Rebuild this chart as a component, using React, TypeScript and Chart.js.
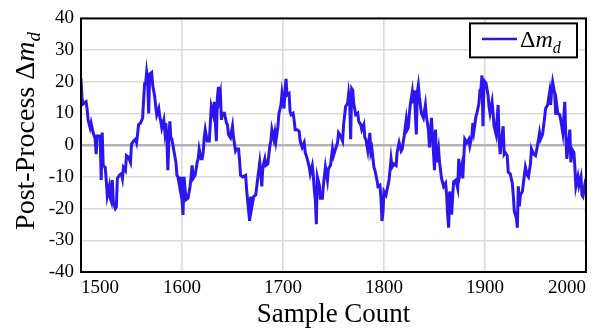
import { useEffect, useRef } from "react";
import { Chart, registerables } from "chart.js";

Chart.register(...registerables);

// Sample numbers (x) and post-process Δm_d values (y)
const sampleIdx = [
  1500, 1501, 1502, 1505, 1506, 1507, 1509, 1510, 1512, 1514, 1515, 1516, 1519, 1520, 1521, 1522, 1524, 1525, 1526, 1528,
  1529, 1530, 1531, 1532, 1534, 1535, 1536, 1538, 1540, 1541, 1542, 1544, 1545, 1547, 1549, 1550, 1552, 1554, 1555, 1556,
  1557, 1559, 1561, 1562, 1563, 1564, 1565, 1566, 1567, 1568, 1570, 1571, 1573, 1574, 1575, 1577, 1578, 1579, 1580, 1582,
  1583, 1584, 1585, 1586, 1587, 1588, 1589, 1590, 1592, 1594, 1595, 1596, 1598, 1599, 1600, 1601, 1602, 1604, 1606, 1608,
  1609, 1610, 1611, 1613, 1615, 1616, 1617, 1619, 1620, 1621, 1622, 1623, 1625, 1627, 1628, 1629, 1631, 1632, 1634, 1635,
  1636, 1637, 1638, 1639, 1640, 1642, 1644, 1645, 1646, 1648, 1650, 1651, 1653, 1654, 1656, 1657, 1658, 1660, 1663, 1664,
  1666, 1667, 1668, 1669, 1671, 1673, 1675, 1677, 1678, 1679, 1680, 1682, 1683, 1685, 1687, 1688, 1689, 1691, 1692, 1693,
  1695, 1696, 1698, 1699, 1701, 1702, 1703, 1704, 1706, 1707, 1708, 1710, 1711, 1712, 1714, 1716, 1717, 1719, 1721, 1722,
  1724, 1726, 1727, 1729, 1730, 1731, 1732, 1733, 1734, 1736, 1737, 1739, 1740, 1742, 1744, 1745, 1747, 1749, 1750, 1752,
  1754, 1755, 1757, 1759, 1760, 1762, 1764, 1765, 1766, 1767, 1768, 1769, 1770, 1772, 1774, 1775, 1777, 1778, 1780, 1781,
  1782, 1784, 1786, 1787, 1788, 1790, 1791, 1793, 1794, 1796, 1797, 1798, 1799, 1800, 1802, 1803, 1805, 1807, 1808, 1810,
  1812, 1813, 1815, 1817, 1818, 1820, 1822, 1823, 1824, 1825, 1826, 1828, 1829, 1830, 1832, 1833, 1834, 1835, 1837, 1839,
  1841, 1842, 1844, 1845, 1847, 1848, 1850, 1851, 1852, 1854, 1855, 1857, 1859, 1861, 1862, 1863, 1864, 1865, 1867, 1868,
  1869, 1871, 1873, 1874, 1875, 1877, 1878, 1879, 1880, 1882, 1884, 1885, 1887, 1888, 1889, 1891, 1892, 1894, 1895, 1896,
  1897, 1898, 1899, 1901, 1903, 1904, 1905, 1907, 1908, 1909, 1911, 1913, 1914, 1915, 1916, 1918, 1919, 1920, 1922, 1923,
  1925, 1927, 1928, 1929, 1931, 1932, 1933, 1934, 1935, 1937, 1938, 1940, 1942, 1943, 1945, 1946, 1948, 1950, 1951, 1953,
  1954, 1955, 1957, 1959, 1960, 1962, 1964, 1965, 1966, 1967, 1969, 1970, 1971, 1972, 1974, 1975, 1977, 1979, 1980, 1981,
  1982, 1984, 1985, 1986, 1988, 1989, 1990, 1992, 1993, 1995, 1996, 1997, 1999, 2000,
];

const deltaMd = [
  21, 15, 13, 13.7, 11.6, 8, 5.5, 7, 4, 2, -2.8, 2.9, 2.9, -11, 4, -6.4, -7, -11, -16, -13,
  -16.7, -17.7, -11, -18, -20, -19.5, -10.5, -9.5, -9, -10.5, -7, -8, -3.3, -3.8, -5.4, 0.3, 1.3, 1.9, 0.8, 3.4,
  6.5, 7, 8.6, 14.2, 19.4, 19.4, 23, 20.4, 10, 22.5, 23, 18.9, 15.3, 12.2, 9.6, 11.6, 9, 7.5, 5.5, 8,
  4.4, 7, 2.4, -7.9, 1.9, 7.5, 1.9, 1.9, -1.8, -5.4, -9.5, -10, -13.6, -10, -17, -22, -10, -17.2, -16.7, -13,
  -10, -6.4, -10.5, -9.5, -5.4, -4.3, -1.2, -4.3, -4.3, -2.3, 2.4, 4.9, 1.3, 1.3, 6.5, 12.2, 9.6, 13.7, 1.3, 14.7,
  18.4, 14.7, 16.3, 8, 10.1, 10.1, 7, 6.5, 3.4, 2.4, 6, 2.4, -1.8, -1.2, -1.2, -4.8, -9.5, -10, -9.5, -14.1,
  -20.8, -23.9, -16.2, -19.8, -16.2, -15.7, -10.5, -5.4, -8.5, -13, -7, -4.3, -6.4, -5.9, -0.2, 1.3, 4.9, 1.9, 3.9, 1.3,
  6, 10, 12.7, 16.3, 11.6, 17.3, 20.9, 15.8, 16.3, 10.6, 9.6, 10.1, 8, 4.9, 4.9, 4.4, 1.3, -0.7, 0.8, -2.3,
  -4.3, -6.9, -9, -6.4, -9.5, -14.1, -17.2, -24.9, -10, -12.6, -16.7, -16.7, -12.6, -6.9, -11, -7.4, -6.4, -1.2, -3.3, -1.2,
  0.8, 3.9, 2.9, 1.3, 6.5, 12.2, 13.2, 16.3, 13.7, 1.9, 17.8, 17.3, 13.2, 9.6, 10.1, 7.5, 6.5, 4.9, 6.5, 2.4,
  1.9, -1.8, 3.9, -2.3, -1.2, -6.9, -7.9, -11, -13, -12.6, -16.7, -23.9, -21, -14.6, -15.7, -14.1, -11, -4.3, -6.9, -5.9,
  -6.4, -2.3, 0.8, -1.8, -1.2, 2.9, 8, 4.9, 5.5, 9.6, 12.7, 16.8, 13.2, 17.3, 3.4, 16.8, 18.9, 15.3, 10.1, 8.6,
  12.7, 9, 4.9, -0.7, 8.6, 2.9, -7.9, 4.9, -5.4, -1.2, -5.4, -10.5, -13, -12, -15.7, -21.9, -26, -14.6, -21.9, -15.7,
  -11.5, -11, -13.6, -4.3, -9.5, -6.4, -10.5, -3.8, 1.9, 0.8, 1.9, -0.2, 2.9, 7, 4.4, 9, 10.1, 13.2, 17.3, 17.8,
  22, 6, 20.4, 19.6, 15.8, 12.2, 10.1, 13.7, 10.1, 6, 3.4, 12.7, 1.9, -2.8, 0.8, 6, -2.8, -2.3, -3.3, -8.5,
  -9, -12, -15.7, -20.8, -22.9, -26, -13, -19.3, -15.7, -14.6, -12, -6.9, -9.5, -10, -5.9, -1.2, -2.8, -3.3, -1.8, 1.9,
  3.9, 1.9, 3.4, 8.6, 11.6, 12.7, 16.8, 12.7, 17.3, 19.9, 16.3, 9.6, 12.7, 10.1, 9.6, 8, 3.9, 13.7, 2.9, -4.3,
  -1.2, 4.9, -5.4, -1.2, -2.3, -6.9, -13, -10, -12.6, -10, -15.7, -16.2, -12, -10.5,
];

const xTickValues = [1500, 1600, 1700, 1800, 1900, 2000];
const yTickValues = [-40, -30, -20, -10, 0, 10, 20, 30, 40];

const xTitle = "Sample Count";
const yTitleMain = "Post-Process ";
const symDelta = "Δ";
const symM = "m";
const symSub = "d";

const SERIF = '"Liberation Serif", "Times New Roman", serif';
const LINE_COLOR = "#2B16F0";

function drawRich(ctx: CanvasRenderingContext2D, size: number, withPrefix: boolean, x0: number) {
  const parts: { t: string; font: string; dy: number }[] = [];
  if (withPrefix) parts.push({ t: yTitleMain, font: `${size}px ${SERIF}`, dy: 0 });
  parts.push({ t: symDelta, font: `${size}px ${SERIF}`, dy: 0 });
  parts.push({ t: symM, font: `italic ${size}px ${SERIF}`, dy: 0 });
  parts.push({ t: symSub, font: `italic ${Math.round(size * 0.68)}px ${SERIF}`, dy: size * 0.22 });
  let total = 0;
  const widths = parts.map((p) => {
    ctx.font = p.font;
    const w = ctx.measureText(p.t).width;
    total += w;
    return w;
  });
  let x = x0 === -1 ? -total / 2 : x0;
  parts.forEach((p, i) => {
    ctx.font = p.font;
    ctx.fillText(p.t, x, p.dy);
    x += widths[i];
  });
  return total;
}

const decorPlugin = {
  id: "decor",
  afterDraw(chart: any) {
    const { ctx, chartArea: a } = chart;
    ctx.save();
    // frame
    ctx.strokeStyle = "#000";
    ctx.lineWidth = 2;
    ctx.strokeRect(a.left, a.top, a.right - a.left, a.bottom - a.top);

    // y-axis title
    ctx.fillStyle = "#000";
    ctx.textBaseline = "alphabetic";
    ctx.textAlign = "left";
    ctx.save();
    ctx.translate(34, 131);
    ctx.rotate(-Math.PI / 2);
    drawRich(ctx, 28, true, -1);
    ctx.restore();

    // legend
    const bx = a.right - 116;
    const by = a.top + 5;
    const bw = 107;
    const bh = 34;
    ctx.fillStyle = "#fff";
    ctx.fillRect(bx, by, bw, bh);
    ctx.strokeStyle = "#000";
    ctx.lineWidth = 2;
    ctx.strokeRect(bx, by, bw, bh);
    ctx.strokeStyle = LINE_COLOR;
    ctx.lineWidth = 2.5;
    ctx.beginPath();
    ctx.moveTo(bx + 12, by + 15.5);
    ctx.lineTo(bx + 47, by + 15.5);
    ctx.stroke();
    ctx.fillStyle = "#000";
    ctx.save();
    ctx.translate(0, by + 24);
    drawRich(ctx, 24, false, bx + 50);
    ctx.restore();
    ctx.restore();
  },
};

export default function App() {
  const ref = useRef<HTMLCanvasElement | null>(null);

  useEffect(() => {
    if (!ref.current) return;
    const points = sampleIdx.map((x, i) => ({ x, y: deltaMd[i] }));
    const chart = new Chart(ref.current, {
      type: "line",
      data: {
        datasets: [
          {
            label: "Δm_d",
            data: points,
            borderColor: LINE_COLOR,
            backgroundColor: LINE_COLOR,
            borderWidth: 3,
            pointRadius: 0,
            tension: 0,
            fill: false,
          },
        ],
      },
      options: {
        animation: false,
        responsive: false,
        maintainAspectRatio: false,
        layout: { padding: { top: 13, right: 8, left: 0, bottom: 0 } },
        plugins: {
          legend: { display: false },
          tooltip: { enabled: false },
        },
        scales: {
          x: {
            type: "linear",
            min: xTickValues[0],
            max: xTickValues[xTickValues.length - 1],
            afterBuildTicks: (s: any) => {
              s.ticks = xTickValues.map((v) => ({ value: v }));
            },
            ticks: {
              align: "inner",
              autoSkip: false,
              maxRotation: 0,
              color: "#000",
              padding: 5,
              font: { family: SERIF, size: 19 },
              callback: (v: any) => String(v),
            },
            grid: { color: "#dadada", lineWidth: 1.6, drawTicks: false },
            border: { display: false },
            title: {
              display: true,
              text: xTitle,
              color: "#000",
              font: { family: SERIF, size: 27 },
              padding: { top: 0, bottom: 1 },
            },
            afterFit: (s: any) => {
              s.height = 60;
            },
          },
          y: {
            type: "linear",
            min: yTickValues[0],
            max: yTickValues[yTickValues.length - 1],
            afterBuildTicks: (s: any) => {
              s.ticks = yTickValues.map((v) => ({ value: v }));
            },
            ticks: {
              color: "#000",
              padding: 7,
              font: { family: SERIF, size: 19 },
              callback: (v: any) => String(v),
            },
            grid: {
              color: (c: any) => (c.tick && c.tick.value === 0 ? "#b3b3b3" : "#dadada"),
              lineWidth: (c: any) => (c.tick && c.tick.value === 0 ? 2.4 : 1.6),
              drawTicks: false,
            },
            border: { display: false },
            afterFit: (s: any) => {
              s.width = 81;
            },
          },
        },
      },
      plugins: [decorPlugin],
    });
    return () => chart.destroy();
  }, []);

  return (
    <div style={{ position: "fixed", left: 0, top: 0, width: 594, height: 332, background: "#fff" }}>
      <canvas ref={ref} width={594} height={332} style={{ width: 594, height: 332, display: "block" }} />
    </div>
  );
}
